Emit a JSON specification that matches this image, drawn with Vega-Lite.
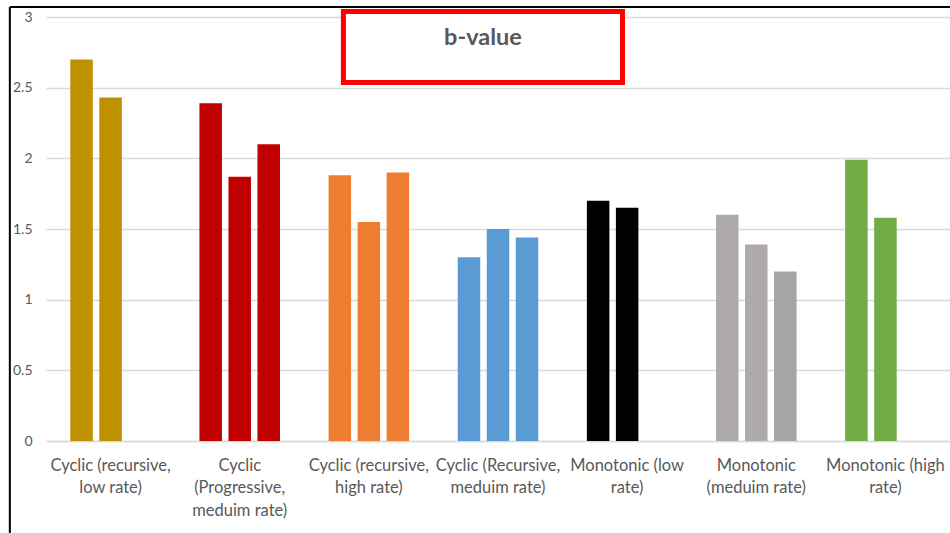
{
  "$schema": "https://vega.github.io/schema/vega-lite/v6.json",
  "width": 904,
  "height": 424,
  "autosize": {"type": "none"},
  "padding": {"left": 46, "top": 17, "right": 0, "bottom": 92},
  "background": "white",
  "config": {"view": {"stroke": null}, "font": "Lato"},
  "data": {
    "values": [
      {"category": "Cyclic (recursive,|low rate)", "test": 1, "value": 2.70},
      {"category": "Cyclic (recursive,|low rate)", "test": 2, "value": 2.43},
      {"category": "Cyclic|(Progressive,|meduim rate)", "test": 1, "value": 2.39},
      {"category": "Cyclic|(Progressive,|meduim rate)", "test": 2, "value": 1.87},
      {"category": "Cyclic|(Progressive,|meduim rate)", "test": 3, "value": 2.10},
      {"category": "Cyclic (recursive,|high rate)", "test": 1, "value": 1.88},
      {"category": "Cyclic (recursive,|high rate)", "test": 2, "value": 1.55},
      {"category": "Cyclic (recursive,|high rate)", "test": 3, "value": 1.90},
      {"category": "Cyclic (Recursive,|meduim rate)", "test": 1, "value": 1.30},
      {"category": "Cyclic (Recursive,|meduim rate)", "test": 2, "value": 1.50},
      {"category": "Cyclic (Recursive,|meduim rate)", "test": 3, "value": 1.44},
      {"category": "Monotonic (low|rate)", "test": 1, "value": 1.70},
      {"category": "Monotonic (low|rate)", "test": 2, "value": 1.65},
      {"category": "Monotonic|(meduim rate)", "test": 1, "value": 1.60},
      {"category": "Monotonic|(meduim rate)", "test": 2, "value": 1.39},
      {"category": "Monotonic|(meduim rate)", "test": 3, "value": 1.20},
      {"category": "Monotonic (high|rate)", "test": 1, "value": 1.99},
      {"category": "Monotonic (high|rate)", "test": 2, "value": 1.58}
    ]
  },
  "resolve": {"scale": {"x": "independent"}},
  "layer": [
    {
      "mark": {"type": "bar"},
      "encoding": {
        "x": {
          "field": "category",
          "type": "nominal",
          "sort": null,
          "title": null,
          "scale": {"paddingInner": 0.326, "paddingOuter": 0.163},
          "axis": {
            "labelAngle": 0,
            "labelExpr": "split(datum.label, '|')",
            "labelFontSize": 16.5,
            "labelColor": "#595959",
            "labelLineHeight": 22.5,
            "labelPadding": 16,
            "ticks": false,
            "domainColor": "#D9D9D9",
            "domainWidth": 1.5
          }
        },
        "xOffset": {
          "field": "test",
          "type": "nominal",
          "scale": {"domain": [1, 2, 3], "paddingInner": 0.224, "paddingOuter": 0.112}
        },
        "y": {
          "field": "value",
          "type": "quantitative",
          "title": null,
          "scale": {"domain": [0, 3], "nice": false},
          "axis": {
            "values": [0, 0.5, 1, 1.5, 2, 2.5, 3],
            "format": "~g",
            "domain": false,
            "ticks": false,
            "labelPadding": 14,
            "labelFontSize": 14,
            "labelColor": "#595959",
            "gridColor": "#D9D9D9",
            "gridWidth": 1.5
          }
        },
        "color": {
          "field": "category",
          "type": "nominal",
          "sort": null,
          "scale": {"range": ["#BF9000", "#C00000", "#ED7D31", "#5B9BD5", "#000000", "#AEAAAA", "#70AD47"]},
          "legend": null,
          "condition": {"test": "datum.category == 'Monotonic|(meduim rate)' && datum.test == 3", "value": "#A5A5A5"}
        },
        "tooltip": [
          {"field": "category", "type": "nominal", "title": "Loading"},
          {"field": "value", "type": "quantitative", "title": "b-value"}
        ]
      }
    },
    {
      "data": {"values": [{}]},
      "mark": {"type": "rule", "color": "black", "strokeWidth": 2},
      "encoding": {
        "x": {"datum": -0.04, "type": "quantitative", "scale": {"domain": [0, 1]}, "axis": null},
        "x2": {"datum": 1.02},
        "y": {"datum": 3.07, "type": "quantitative"}
      }
    },
    {
      "data": {"values": [{}]},
      "mark": {"type": "rule", "color": "black", "strokeWidth": 2},
      "encoding": {
        "x": {"datum": -0.04, "type": "quantitative", "scale": {"domain": [0, 1]}, "axis": null},
        "y": {"datum": 3.07, "type": "quantitative"},
        "y2": {"datum": -0.75}
      }
    },
    {
      "data": {"values": [{}]},
      "mark": {"type": "rect", "fill": "white", "stroke": "#FF0000", "strokeWidth": 5},
      "encoding": {
        "x": {"datum": 0.329, "type": "quantitative", "scale": {"domain": [0, 1]}, "axis": null},
        "x2": {"datum": 0.6377},
        "y": {"datum": 3.039, "type": "quantitative"},
        "y2": {"datum": 2.537}
      }
    },
    {
      "data": {"values": [{}]},
      "mark": {"type": "text", "text": "b-value", "fontSize": 23.5, "fontWeight": "bold", "color": "#595959", "baseline": "middle", "align": "center"},
      "encoding": {
        "x": {"datum": 0.4834, "type": "quantitative", "scale": {"domain": [0, 1]}, "axis": null},
        "y": {"datum": 2.852, "type": "quantitative"}
      }
    }
  ]
}
